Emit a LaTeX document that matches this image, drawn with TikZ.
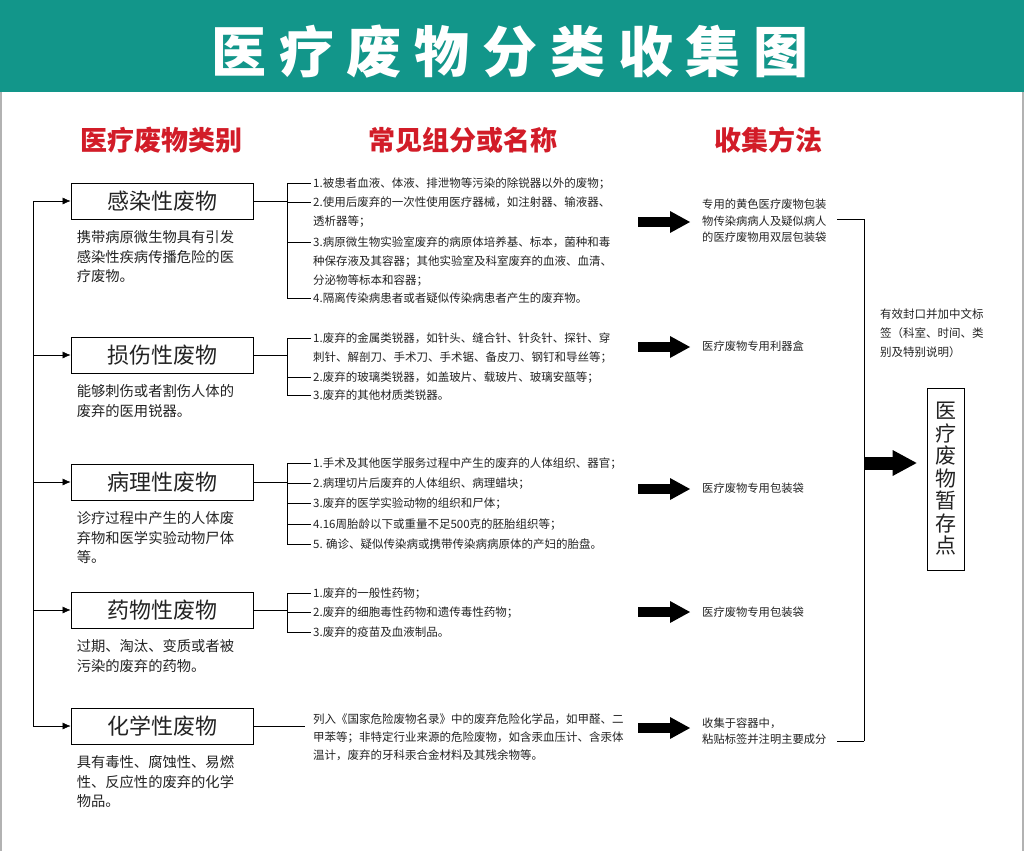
\documentclass[tikz,border=0pt]{standalone}
\usepackage{fontspec}
\setmainfont{Noto Sans CJK SC}
\usetikzlibrary{positioning,arrows.meta}
\definecolor{headteal}{RGB}{18,150,138}
\definecolor{headred}{RGB}{210,28,40}
\definecolor{inkgray}{RGB}{35,35,35}
\begin{document}
\begin{tikzpicture}[x=1pt, y=-1pt, text=inkgray,
    cat/.style = {draw, line width=0.9pt, minimum width=182pt, minimum height=36pt, inner sep=0pt,
                  font=\fontsize{22}{22}\selectfont},
    desc/.style = {align=left, inner sep=0pt, font=\fontsize{14.3}{19.6}\selectfont},
    item/.style = {anchor=north west, align=left, inner sep=0pt, font=\fontsize{11.5}{19}\selectfont},
    way/.style = {anchor=west, align=left, inner sep=0pt, font=\fontsize{11.3}{16.5}\selectfont},
    head/.style = {text=headred, font=\fontsize{27}{27}\selectfont\bfseries},
    fat/.style = {line width=10pt, -{Triangle[length=20pt, width=22pt, line width=0pt]}},
    bigfat/.style = {line width=13pt, -{Triangle[length=24pt, width=26pt, line width=0pt]}}]
  \useasboundingbox (0,0) rectangle (1024,851);
  \draw[gray!60, line width=1.5pt] (1,92) -- (1,851) (1023,92) -- (1023,851);
  \fill[headteal] (0,0) rectangle (1024,92);
  \node[text=white, font=\fontsize{55}{55}\selectfont\bfseries\addfontfeatures{LetterSpace=23.2}] (title) at (510,52) {医疗废物分类收集图};
  %
  \node[head] (h1) at (161,140) {医疗废物类别};
  \node[head] (h2) at (463,140) {常见组分或名称};
  \node[head] (h3) at (768,140) {收集方法};
  %
  \node[cat] (c1) at (162,201) {感染性废物};
  \node[cat] (c2) at (162,355) {损伤性废物};
  \node[cat] (c3) at (162,482) {病理性废物};
  \node[cat] (c4) at (162,610) {药物性废物};
  \node[cat] (c5) at (162,726) {化学性废物};
  \node[desc, below right=11pt and 6pt of c1.south west] (d1) {携带病原微生物具有引发\\感染性疾病传播危险的医\\疗废物。};
  \node[desc, below right=11pt and 6pt of c2.south west] (d2) {能够刺伤或者割伤人体的\\废弃的医用锐器。};
  \node[desc, below right=11pt and 6pt of c3.south west] (d3) {诊疗过程中产生的人体废\\弃物和医学实验动物尸体\\等。};
  \node[desc, below right=11pt and 6pt of c4.south west] (d4) {过期、淘汰、变质或者被\\污染的废弃的药物。};
  \node[desc, below right=11pt and 6pt of c5.south west] (d5) {具有毒性、腐蚀性、易燃\\性、反应性的废弃的化学\\物品。};
  %
  \coordinate (spine) at (33,726);
  \foreach \n in {c1,c2,c3,c4,c5}
    \draw[-{Latex[length=8pt, width=7pt]}] (spine) |- (\n);
  %
  \node[item] (i11) at (313,177.7) {1.被患者血液、体液、排泄物等污染的除锐器以外的废物；};
  \node[item] (i12) at (313,196.7) {2.使用后废弃的一次性使用医疗器械，如注射器、输液器、\\透析器等；};
  \node[item] (i13) at (313,236.7) {3.病原微生物实验室废弃的病原体培养基、标本，菌种和毒\\种保存液及其容器；其他实验室及科室废弃的血液、血清、\\分泌物等标本和容器；};
  \node[item] (i14) at (313,292.7) {4.隔离传染病患者或者疑似传染病患者产生的废弃物。};
  \node[item] (i21) at (313,332.7) {1.废弃的金属类锐器，如针头、缝合针、针灸针、探针、穿\\刺针、解剖刀、手术刀、手术锯、备皮刀、钢钉和导丝等；};
  \node[item] (i22) at (313,371.7) {2.废弃的玻璃类锐器，如盖玻片、载玻片、玻璃安瓿等；};
  \node[item] (i23) at (313,389.7) {3.废弃的其他材质类锐器。};
  \node[item] (i31) at (313,457.7) {1.手术及其他医学服务过程中产生的废弃的人体组织、器官；};
  \node[item] (i32) at (313,477.7) {2.病理切片后废弃的人体组织、病理蜡块；};
  \node[item] (i33) at (313,497.7) {3.废弃的医学实验动物的组织和尸体；};
  \node[item] (i34) at (313,518.7) {4.16周胎龄以下或重量不足500克的胚胎组织等；};
  \node[item] (i35) at (313,538.7) {5. 确诊、疑似传染病或携带传染病病原体的产妇的胎盘。};
  \node[item] (i41) at (313,587.7) {1.废弃的一般性药物；};
  \node[item] (i42) at (313,606.7) {2.废弃的细胞毒性药物和遗传毒性药物；};
  \node[item] (i43) at (313,626.7) {3.废弃的疫苗及血液制品。};
  \node[item, font=\fontsize{11.5}{18}\selectfont] (i51) at (313,713.7) {列入《国家危险废物名录》中的废弃危险化学品，如甲醛、二\\甲苯等；非特定行业来源的危险废物，如含汞血压计、含汞体\\温计，废弃的牙科汞合金材料及其残余物等。};
  %
  \coordinate (b1) at (287,201);
  \coordinate (b2) at (287,355);
  \coordinate (b3) at (287,482);
  \coordinate (b4) at (287,610);
  \coordinate (b5) at (305,726);
  \foreach \k/\list in {1/{i11,i12,i13,i14}, 2/{i21,i22,i23}, 3/{i31,i32,i33,i34,i35}, 4/{i41,i42,i43}} {
    \draw (c\k) -- (b\k);
    \foreach \n in \list
      \draw[shorten >=2pt] (b\k) |- ([yshift=-5.3pt]\n.north west);
  }
  \draw (c5) -- (b5);
  %
  \node[way] (m1) at (702,221) {专用的黄色医疗废物包装\\物传染病病人及疑似病人\\的医疗废物用双层包装袋};
  \node[way] (m2) at (702,346) {医疗废物专用利器盒};
  \node[way] (m3) at (702,488) {医疗废物专用包装袋};
  \node[way] (m4) at (702,612) {医疗废物专用包装袋};
  \node[way] (m5) at (702,731) {收集于容器中，\\粘贴标签并注明主要成分};
  \foreach \k/\y in {1/222, 2/347, 3/489, 4/612, 5/728} {
    \coordinate (a\k) at (638,\y);
    \draw[fat, shorten >=12pt] (a\k) -- (a\k -| m\k.west);
  }
  %
  \coordinate (rtop) at (864,219);
  \coordinate (rbot) at (864,741);
  \coordinate (rmid) at (864,463);
  \draw (rtop) -- (rbot);
  \draw[shorten >=10pt] (rtop) -- (rtop -| m1.east);
  \draw[shorten >=10pt] (rbot) -- (rbot -| m5.east);
  \node[way, anchor=north west, font=\fontsize{11.5}{19}\selectfont] (note) at (880,308.5) {有效封口并加中文标\\签（科室、时间、类\\别及特别说明）};
  \node[draw, line width=0.8pt, minimum width=37pt, minimum height=182pt, inner sep=0pt, align=center,
        font=\fontsize{21}{22.5}\selectfont] (store) at (945.5,479) {医\\疗\\废\\物\\暂\\存\\点};
  \draw[bigfat, shorten >=10pt] (rmid) -- (rmid -| store.west);
\end{tikzpicture}
\end{document}
